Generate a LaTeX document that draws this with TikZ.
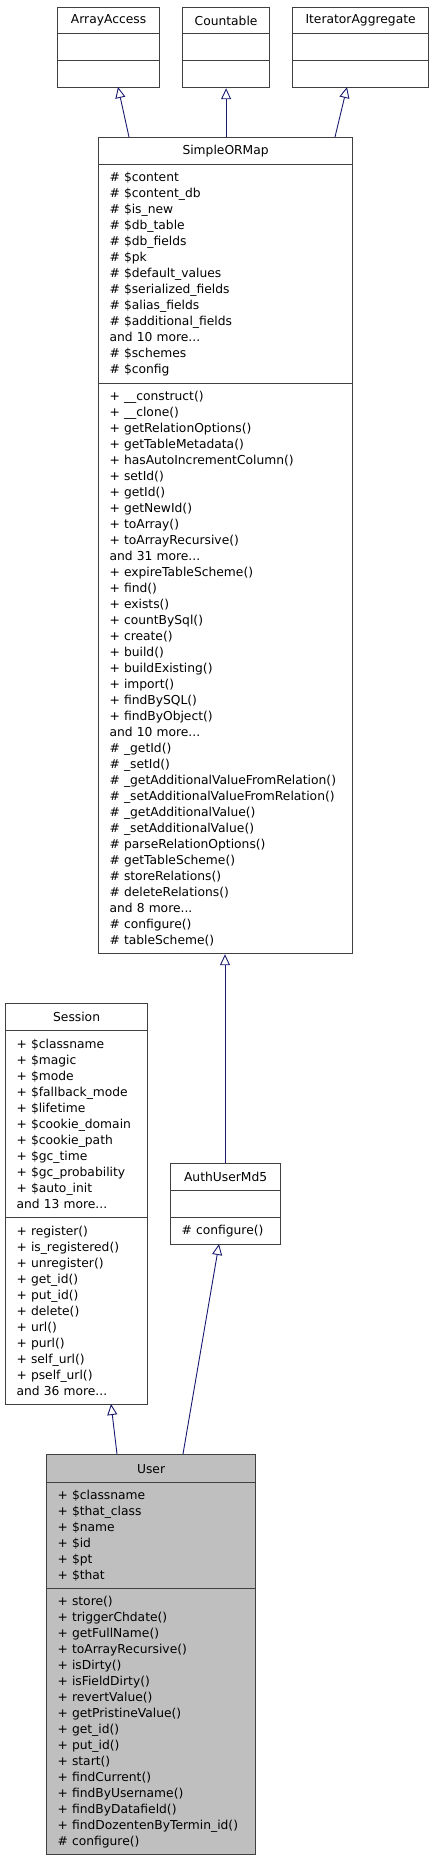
\documentclass[tikz,border=0pt]{standalone}
\usepackage{fontspec}
\setmainfont{DejaVu Sans}
\usetikzlibrary{arrows.meta, positioning}
\definecolor{edgeblue}{HTML}{191970}
\definecolor{boxgray}{HTML}{404040}
\definecolor{hlgray}{HTML}{BFBFBF}
\tikzset{
  sect/.style={draw=boxgray, line width=1.2pt, anchor=north west, inner xsep=11pt, inner ysep=0pt,
    align=left, font=\fontsize{12.3}{16}\selectfont},
  ttl/.style={sect, align=center},
  inherit/.style={draw=edgeblue, line width=0.9pt, -{Triangle[open, length=11pt, width=10pt]}}
}
\begin{document}
\begin{tikzpicture}[x=1pt, y=-1pt]
\useasboundingbox (0,0) rectangle (433,1861);
% interfaces
\node[ttl, text width=80pt, minimum height=26pt] (aa-title) at (57,7) {ArrayAccess};
\node[sect, text width=80pt, minimum height=27pt] (aa-attr) at (57,33) {};
\node[sect, text width=80pt, minimum height=27pt] (aa-ops) at (57,60) {};
\node[ttl, text width=65pt, minimum height=26pt] (cnt-title) at (182,7) {Countable};
\node[sect, text width=65pt, minimum height=27pt] (cnt-attr) at (182,33) {};
\node[sect, text width=65pt, minimum height=27pt] (cnt-ops) at (182,60) {};
\node[ttl, text width=114pt, minimum height=26pt] (ia-title) at (292,7) {IteratorAggregate};
\node[sect, text width=114pt, minimum height=27pt] (ia-attr) at (292,33) {};
\node[sect, text width=114pt, minimum height=27pt] (ia-ops) at (292,60) {};
% SimpleORMap
\node[ttl, text width=232pt, minimum height=27pt] (sorm-title) at (98,137) {SimpleORMap};
\node[sect, text width=232pt, minimum height=219pt] (sorm-attr) at (98,164) {\# \$content\\\# \$content\_db\\\# \$is\_new\\\# \$db\_table\\\# \$db\_fields\\\# \$pk\\\# \$default\_values\\\# \$serialized\_fields\\\# \$alias\_fields\\\# \$additional\_fields\\and 10 more...\\\# \$schemes\\\# \$config};
\node[sect, text width=232pt, minimum height=570pt] (sorm-ops) at (98,383) {+ \_\_construct()\\+ \_\_clone()\\+ getRelationOptions()\\+ getTableMetadata()\\+ hasAutoIncrementColumn()\\+ setId()\\+ getId()\\+ getNewId()\\+ toArray()\\+ toArrayRecursive()\\and 31 more...\\+ expireTableScheme()\\+ find()\\+ exists()\\+ countBySql()\\+ create()\\+ build()\\+ buildExisting()\\+ import()\\+ findBySQL()\\+ findByObject()\\and 10 more...\\\# \_getId()\\\# \_setId()\\\# \_getAdditionalValueFromRelation()\\\# \_setAdditionalValueFromRelation()\\\# \_getAdditionalValue()\\\# \_setAdditionalValue()\\\# parseRelationOptions()\\\# getTableScheme()\\\# storeRelations()\\\# deleteRelations()\\and 8 more...\\\# configure()\\\# tableScheme()};
% Session
\node[ttl, text width=120pt, minimum height=27pt] (sess-title) at (5,1003) {Session};
\node[sect, text width=120pt, minimum height=187pt] (sess-attr) at (5,1030) {+ \$classname\\+ \$magic\\+ \$mode\\+ \$fallback\_mode\\+ \$lifetime\\+ \$cookie\_domain\\+ \$cookie\_path\\+ \$gc\_time\\+ \$gc\_probability\\+ \$auto\_init\\and 13 more...};
\node[sect, text width=120pt, minimum height=187pt] (sess-ops) at (5,1217) {+ register()\\+ is\_registered()\\+ unregister()\\+ get\_id()\\+ put\_id()\\+ delete()\\+ url()\\+ purl()\\+ self\_url()\\+ pself\_url()\\and 36 more...};
% AuthUserMd5
\node[ttl, text width=88pt, minimum height=27pt] (aum-title) at (170,1163) {AuthUserMd5};
\node[sect, text width=88pt, minimum height=27pt] (aum-attr) at (170,1190) {};
\node[sect, text width=88pt, minimum height=27pt] (aum-ops) at (170,1217) {\# configure()};
% User
\node[ttl, fill=hlgray, text width=187pt, minimum height=28pt] (user-title) at (46,1454) {User};
\node[sect, fill=hlgray, text width=187pt, minimum height=106pt] (user-attr) at (46,1482) {+ \$classname\\+ \$that\_class\\+ \$name\\+ \$id\\+ \$pt\\+ \$that};
\node[sect, fill=hlgray, text width=187pt, minimum height=266pt] (user-ops) at (46,1588) {+ store()\\+ triggerChdate()\\+ getFullName()\\+ toArrayRecursive()\\+ isDirty()\\+ isFieldDirty()\\+ revertValue()\\+ getPristineValue()\\+ get\_id()\\+ put\_id()\\+ start()\\+ findCurrent()\\+ findByUsername()\\+ findByDatafield()\\+ findDozentenByTermin\_id()\\\# configure()};
% inheritance
\coordinate (sorm-aa) at (129,137);
\coordinate (aa-base) at (118,87);
\coordinate (sorm-ia) at (335,137);
\coordinate (ia-base) at (347,87);
\coordinate (user-sess) at (117,1454);
\coordinate (sess-base) at (111,1404);
\coordinate (user-aum) at (183,1454);
\coordinate (aum-base) at (219,1244);
\draw[inherit] (sorm-aa) -- (aa-base);
\draw[inherit] (sorm-title.north -| cnt-ops.south) -- (cnt-ops.south);
\draw[inherit] (sorm-ia) -- (ia-base);
\draw[inherit] (aum-title.north -| 225,0) -- (sorm-ops.south -| 225,0);
\draw[inherit] (user-sess) -- (sess-base);
\draw[inherit] (user-aum) -- (aum-base);
\end{tikzpicture}
\end{document}
